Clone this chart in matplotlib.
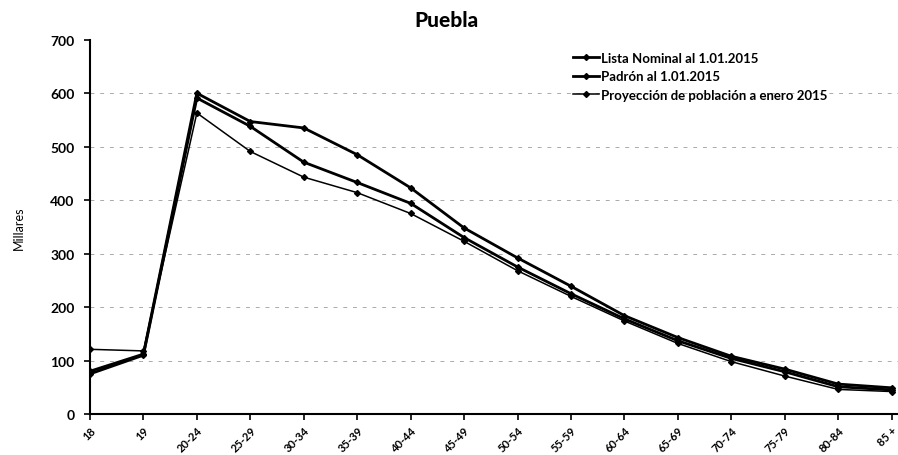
import numpy as np
import matplotlib.pyplot as plt

# Grupos de edad y valores (miles)
edades = ["18", "19", "20-24", "25-29", "30-34", "35-39", "40-44", "45-49",
          "50-54", "55-59", "60-64", "65-69", "70-74", "75-79", "80-84", "85 +"]

lista_nominal = [75, 110, 591, 538, 471, 433, 394, 330, 275, 225,
                 178, 137, 104, 79, 51, 45]
padron = [80, 112, 600, 547, 535, 485, 423, 348, 292, 239,
          184, 143, 108, 84, 56, 49]
proyeccion = [121, 118, 563, 491, 443, 414, 375, 323, 268, 220,
              174, 132, 98, 71, 46, 42]

series = [
    ("Lista Nominal al 1.01.2015", lista_nominal, 2.0),
    ("Padrón al 1.01.2015", padron, 2.0),
    ("Proyección de población a enero 2015", proyeccion, 1.1),
]

plt.rcParams['font.family'] = ['Lato', 'DejaVu Sans']

fig = plt.figure(figsize=(8.98, 4.56), dpi=100)
ax = fig.add_axes([0.1002, 0.0899, 0.8998, 0.8208])

x = np.arange(len(edades))
for nombre, valores, lw in series:
    ax.plot(x, valores, color='black', linewidth=lw, marker='D',
            markersize=3, label=nombre)

# Lineas de cuadricula punteadas
for v in range(100, 700, 100):
    ax.axhline(v, color='#aaaaaa', linewidth=0.7, linestyle=(0, (4, 6)), zorder=0)

ax.set_xlim(0, 15.12)
ax.set_ylim(0, 700)
ax.set_yticks(range(0, 701, 100))
ax.set_xticks(x)
ax.set_xticklabels(edades, rotation=45, ha='right', rotation_mode='anchor',
                   fontsize=8, fontweight='bold')
for lbl in ax.get_yticklabels():
    lbl.set_fontsize(10)
    lbl.set_fontweight('bold')
ax.tick_params(axis='both', direction='out', length=4, width=1.2, color='black')
ax.tick_params(axis='y', pad=7)

for s in ['top', 'right']:
    ax.spines[s].set_visible(False)
for s in ['left', 'bottom']:
    ax.spines[s].set_linewidth(1.5)

ax.set_ylabel("Millares", fontsize=9, labelpad=18)
fig.text(0.4977, 0.955, "Puebla", ha='center', va='center',
         fontsize=15, fontweight='black')

ax.legend(loc='upper left', bbox_to_anchor=(0.583, 1.0), frameon=False,
          handlelength=2.0, handletextpad=0.15, labelspacing=0.5,
          prop={'weight': 'bold', 'size': 9.5})

fig.savefig("out.png", dpi=100)
